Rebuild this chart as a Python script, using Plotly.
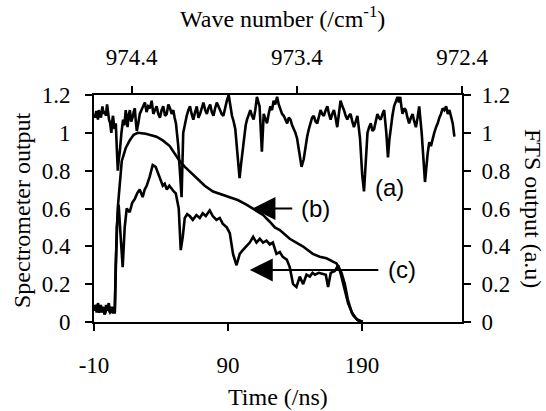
import plotly.graph_objects as go

# ---- data ----
# (a) FTS spectrum vs wave number (top axis / right axis)
wn_a = [974.629, 974.621, 974.613, 974.608, 974.603, 974.598, 974.593, 974.585, 974.576, 974.569,
        974.562, 974.555, 974.548, 974.542, 974.536, 974.529, 974.522, 974.517, 974.512, 974.503,
        974.495, 974.489, 974.483, 974.477, 974.471, 974.461, 974.451, 974.443, 974.435, 974.429,
        974.424, 974.417, 974.410, 974.402, 974.394, 974.387, 974.380, 974.374, 974.368, 974.359,
        974.350, 974.335, 974.319, 974.309, 974.299, 974.288, 974.278, 974.268, 974.258, 974.248,
        974.238, 974.228, 974.218, 974.208, 974.197, 974.187, 974.177, 974.167, 974.157, 974.147,
        974.139, 974.131, 974.117, 974.107, 974.097, 974.087, 974.076, 974.066, 974.056, 974.046,
        974.036, 974.026, 974.015, 974.005, 973.995, 973.985, 973.975, 973.965, 973.954, 973.944,
        973.934, 973.924, 973.914, 973.904, 973.894, 973.884, 973.874, 973.864, 973.854, 973.844,
        973.833, 973.823, 973.812, 973.802, 973.792, 973.782, 973.772, 973.758, 973.752, 973.746,
        973.739, 973.732, 973.718, 973.709, 973.701, 973.691, 973.681, 973.671, 973.661, 973.651,
        973.641, 973.625, 973.611, 973.600, 973.590, 973.580, 973.570, 973.560, 973.550, 973.540,
        973.530, 973.519, 973.509, 973.499, 973.489, 973.479, 973.468, 973.458, 973.448, 973.438,
        973.428, 973.418, 973.408, 973.398, 973.382, 973.371, 973.358, 973.347, 973.337, 973.327,
        973.317, 973.307, 973.297, 973.286, 973.276, 973.266, 973.256, 973.246, 973.236, 973.225,
        973.215, 973.205, 973.195, 973.185, 973.175, 973.165, 973.155, 973.145, 973.135, 973.124,
        973.114, 973.104, 973.094, 973.084, 973.074, 973.064, 973.054, 973.043, 973.033, 973.017,
        973.004, 972.993, 972.983, 972.972, 972.962, 972.952, 972.942, 972.932, 972.922, 972.912,
        972.902, 972.892, 972.881, 972.871, 972.858, 972.848, 972.840, 972.831, 972.821, 972.811,
        972.800, 972.790, 972.782, 972.774, 972.767, 972.760, 972.750, 972.740, 972.730, 972.720,
        972.709, 972.699, 972.689, 972.679, 972.669, 972.659, 972.644, 972.632, 972.624, 972.608,
        972.598, 972.588, 972.578, 972.568, 972.557, 972.547, 972.537, 972.527, 972.517, 972.507,
        972.496, 972.486, 972.476, 972.466, 972.456, 972.446]
fts_a = [1.10, 1.08, 1.115, 1.09, 1.07, 1.12, 1.10, 1.08, 1.14, 1.10,
         1.115, 1.09, 1.15, 1.10, 1.07, 1.05, 1.00, 1.06, 1.09, 1.02,
         1.05, 0.92, 0.80, 0.86, 0.90, 1.00, 1.07, 1.04, 1.12, 1.08,
         1.03, 1.09, 1.12, 1.06, 1.08, 1.11, 1.13, 1.06, 1.01, 1.05,
         1.10, 1.13, 1.16, 1.11, 1.14, 1.13, 1.17, 1.10, 1.12, 1.14,
         1.10, 1.08, 1.12, 1.14, 1.09, 1.10, 1.15, 1.13, 1.10, 1.12,
         1.08, 1.05, 0.93, 0.80, 0.66, 1.00, 1.06, 1.09, 1.12, 1.14,
         1.10, 1.07, 1.11, 1.14, 1.08, 1.10, 1.13, 1.16, 1.12, 1.10,
         1.13, 1.15, 1.11, 1.09, 1.13, 1.16, 1.14, 1.12, 1.10, 1.09,
         1.14, 1.17, 1.20, 1.13, 1.09, 1.06, 1.02, 0.88, 0.80, 0.76,
         0.82, 0.88, 1.00, 1.04, 1.07, 1.10, 1.12, 1.09, 1.07, 1.12,
         1.19, 1.14, 0.90, 1.10, 1.07, 1.05, 1.10, 1.14, 1.12, 1.17,
         1.15, 1.19, 1.15, 1.12, 1.10, 1.09, 1.07, 1.05, 1.08, 1.07,
         1.04, 1.02, 1.00, 0.97, 0.88, 0.82, 0.86, 0.93, 0.98, 1.02,
         1.05, 1.08, 1.09, 1.06, 1.05, 1.09, 1.12, 1.10, 1.09, 1.12,
         1.14, 1.10, 1.07, 1.10, 1.12, 1.08, 1.03, 1.10, 1.17, 1.14,
         1.12, 1.09, 1.07, 1.09, 1.10, 1.06, 1.03, 1.06, 1.09, 0.97,
         0.78, 0.69, 0.85, 1.00, 1.03, 1.05, 1.01, 1.02, 1.06, 1.10,
         1.08, 1.07, 1.10, 1.12, 1.00, 0.87, 0.96, 1.03, 1.09, 1.14,
         1.17, 1.19, 1.16, 1.19, 1.14, 1.10, 1.13, 1.12, 1.08, 1.05,
         1.08, 1.10, 1.06, 1.03, 1.08, 1.14, 1.00, 0.84, 0.74, 0.89,
         0.95, 0.93, 0.97, 1.00, 1.03, 1.05, 1.08, 1.10, 1.13, 1.12,
         1.14, 1.10, 1.12, 1.09, 1.05, 0.98]

# (b) smooth spectrometer output vs time
t_b = [-10, -8, -6, -4, -2, 0, 2, 4, 5.5, 6.2, 7.7, 9.2, 10.7, 13.7, 16.6, 19.6, 22.6,
       28.6, 36.6, 41.3, 46.5, 50.2, 54, 57.8, 61.5, 66.4, 72.6, 78.8, 84.6, 91.3, 97.2,
       103.7, 109.9, 116.1, 121.1, 124.9, 128.6, 136, 145.7, 153.2, 158.4, 163.4, 170.9,
       174.6, 177.1, 179.3, 182.3, 186, 190.5]
out_b = [0.06, 0.09, 0.05, 0.08, 0.04, 0.08, 0.05, 0.07, 0.05, 0.3, 0.6, 0.75, 0.85, 0.92, 0.96, 0.99, 1.0,
         0.995, 0.98, 0.96, 0.93, 0.89, 0.85, 0.82, 0.795, 0.76, 0.72, 0.69, 0.675, 0.66, 0.645,
         0.62, 0.595, 0.566, 0.53, 0.50, 0.486, 0.44, 0.40, 0.36, 0.345, 0.337, 0.31,
         0.26, 0.20, 0.12, 0.05, 0.015, 0.0]

# (c) noisy spectrometer output vs time
t_c = [-10, -9, -8, -7, -6, -5, -4, -3, -2, -1, 0, 1, 2, 3, 4, 5.5, 7, 8.4, 9.9, 11.4, 12.9, 14.4,
       16.6, 18.5, 20.4, 22.2, 24.1, 26.3, 27.8, 29.3, 31.6, 33.8, 36, 37.5, 39, 41.3, 42.8, 44.3,
       46.2, 48, 49.5, 51, 53.2, 54.7, 56.2, 57.7, 59.5, 61.4, 63.7, 66.4, 68.9, 71.1, 73.4, 76.3,
       78.6, 81.3, 83.8, 86, 89, 91.3, 93.7, 96.3, 98.7, 101, 103.7, 106.2, 108.7, 111.2, 113.7,
       116.1, 118.7, 121.1, 123.4, 126.1, 128.6, 130.8, 133.8, 136, 138.5, 141, 143.5, 146, 148.5,
       151, 153, 154.8, 157.7, 160.9, 162.9, 164.6, 166.6, 169.6, 172.2, 174.6, 177.1, 179.6,
       183.3, 187, 190.5]
out_c = [0.06, 0.09, 0.05, 0.10, 0.06, 0.09, 0.05, 0.08, 0.04, 0.09, 0.06, 0.10, 0.05, 0.08, 0.05,
         0.05, 0.5, 0.62, 0.45, 0.29, 0.5, 0.6, 0.58, 0.63, 0.65, 0.68, 0.70, 0.66, 0.70,
         0.72, 0.77, 0.83, 0.82, 0.79, 0.76, 0.72, 0.73, 0.70, 0.72, 0.70, 0.69, 0.68, 0.60,
         0.38, 0.45, 0.55, 0.57, 0.56, 0.54, 0.565, 0.55, 0.575, 0.56, 0.59, 0.56, 0.54, 0.55,
         0.52, 0.50, 0.47, 0.36, 0.30, 0.36, 0.38, 0.40, 0.42, 0.45, 0.42, 0.44, 0.42, 0.43,
         0.41, 0.42, 0.36, 0.37, 0.344, 0.33, 0.29, 0.20, 0.185, 0.24, 0.20, 0.25, 0.24, 0.26,
         0.25, 0.26, 0.256, 0.25, 0.185, 0.26, 0.27, 0.30, 0.24, 0.167, 0.097, 0.035, 0.008, 0.0]

time_ticks = [-10, 90, 190]
time_labels = ["-10", "90", "190"]
wn_ticks = [974.4, 973.4, 972.4]
wn_labels = ["974.4", "973.4", "972.4"]
y_ticks = [0, 0.2, 0.4, 0.6, 0.8, 1.0, 1.2]
y_labels = ["0", "0.2", "0.4", "0.6", "0.8", "1", "1.2"]

SERIF = "Liberation Serif"
SANS = "Liberation Sans"
LINE = dict(color="black", width=2.6)

fig = go.Figure()
fig.add_trace(go.Scatter(x=t_c, y=out_c, mode="lines", line=LINE, xaxis="x", yaxis="y", name="(c)"))
fig.add_trace(go.Scatter(x=t_b, y=out_b, mode="lines", line=LINE, xaxis="x", yaxis="y", name="(b)"))
fig.add_trace(go.Scatter(x=wn_a, y=fts_a, mode="lines", line=LINE, xaxis="x2", yaxis="y2", name="(a)"))

fig.update_layout(
    width=546, height=411,
    margin=dict(l=94, r=84, t=95, b=89),
    paper_bgcolor="white", plot_bgcolor="white",
    font=dict(family=SERIF, size=22, color="black"),
    showlegend=False,
    xaxis=dict(range=[-10, 264.5], tickvals=time_ticks, ticktext=time_labels, ticklabelstandoff=14),
    xaxis2=dict(range=[974.627, 972.4], tickvals=wn_ticks, ticktext=wn_labels, overlaying="x",
                side="top", anchor="y", ticklabelstandoff=12),
    yaxis=dict(range=[0, 1.2], tickvals=y_ticks, ticktext=y_labels, ticklabelstandoff=10),
    yaxis2=dict(range=[0, 1.2], tickvals=y_ticks, ticktext=y_labels, overlaying="y", side="right",
                anchor="x", ticklabelstandoff=6),
)
style = dict(showline=True, linecolor="black", linewidth=2, ticks="outside", ticklen=7,
             tickwidth=2, tickcolor="black", showgrid=False, zeroline=False, automargin=False,
             tickfont_family=SERIF, tickfont_size=23, tickfont_color="black")
fig.update_xaxes(**style)
fig.update_yaxes(**style)

titlefont = dict(family=SERIF, size=24, color="black")
labfont = dict(family=SANS, size=24, color="black")
ann = [
    dict(text="Time (/ns)", x=(278 - 94) / 368, y=(322 - 397) / 227, xref="paper", yref="paper",
         showarrow=False, font=titlefont, xanchor="center", yanchor="middle"),
    dict(text="Wave number (/cm<sup>-1</sup>)", x=(282 - 94) / 368, y=(322 - 17) / 227,
         xref="paper", yref="paper", showarrow=False, font=titlefont, xanchor="center", yanchor="middle"),
    dict(text="Spectrometer output", x=(22 - 94) / 368, y=(322 - 210) / 227, xref="paper", yref="paper",
         showarrow=False, font=titlefont, textangle=-90, xanchor="center", yanchor="middle"),
    dict(text="FTS output (a.u)", x=(533 - 94) / 368, y=(322 - 208) / 227, xref="paper", yref="paper",
         showarrow=False, font=titlefont, textangle=90, xanchor="center", yanchor="middle"),
    # arrows
    dict(x=108.2, y=0.60, ax=139, ay=0.60, xref="x", yref="y", axref="x", ayref="y", text="",
         showarrow=True, arrowhead=2, arrowsize=2.3, arrowwidth=2, arrowcolor="black", standoff=0),
    dict(x=106.2, y=0.275, ax=203.2, ay=0.275, xref="x", yref="y", axref="x", ayref="y", text="",
         showarrow=True, arrowhead=2, arrowsize=2.3, arrowwidth=2, arrowcolor="black", standoff=0),
    # labels
    dict(text="(a)", x=210.7, y=0.71, xref="x", yref="y", showarrow=False, font=labfont),
    dict(text="(b)", x=155.5, y=0.60, xref="x", yref="y", showarrow=False, font=labfont),
    dict(text="(c)", x=219.6, y=0.28, xref="x", yref="y", showarrow=False, font=labfont),
]
fig.update_layout(annotations=ann)

fig.write_html("out.html")
